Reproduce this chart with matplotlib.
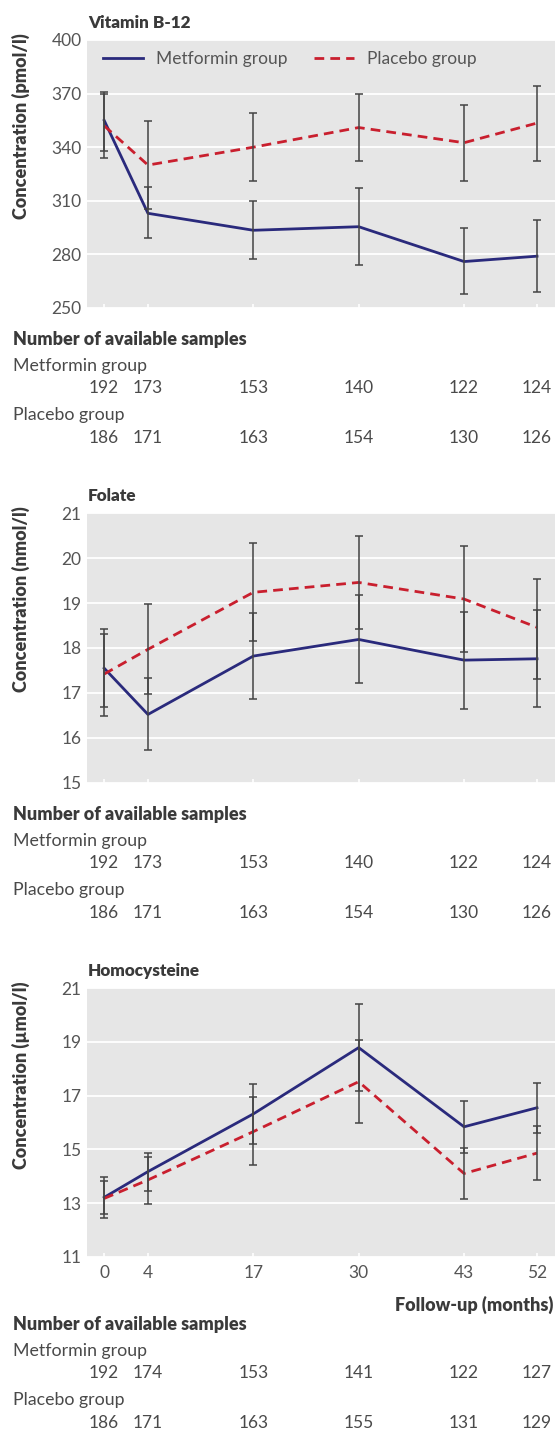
import numpy as np
import matplotlib
matplotlib.use("Agg")
import matplotlib.pyplot as plt
from matplotlib import transforms
from matplotlib.lines import Line2D

plt.rcParams['font.family'] = ['Lato', 'DejaVu Sans']

months = [0, 4, 17, 30, 43, 52]

# vitamin B-12 (pmol/l)
b12_met = [355, 303, 293.5, 295.5, 276, 279]
b12_met_lo = [338, 289, 277.5, 274, 258, 259]
b12_met_hi = [371, 318, 310, 317, 294.5, 299.5]
b12_pla = [352, 330, 340, 351, 342.5, 353.5]
b12_pla_lo = [334, 305.5, 321, 332.5, 321, 332.5]
b12_pla_hi = [369.5, 354.5, 359, 370, 363.5, 374.5]

# folate (nmol/l)
fol_met = [17.55, 16.52, 17.82, 18.19, 17.73, 17.76]
fol_met_lo = [16.69, 15.73, 16.86, 17.21, 16.65, 16.69]
fol_met_hi = [18.42, 17.33, 18.79, 19.18, 18.80, 18.84]
fol_pla = [17.42, 17.97, 19.24, 19.46, 19.09, 18.46]
fol_pla_lo = [16.48, 16.97, 18.16, 18.42, 17.90, 17.32]
fol_pla_hi = [18.31, 18.97, 20.33, 20.50, 20.27, 19.54]

# homocysteine (umol/l)
hcy_met = [13.21, 14.17, 16.32, 18.79, 15.84, 16.55]
hcy_met_lo = [12.59, 13.45, 15.20, 17.17, 14.88, 15.62]
hcy_met_hi = [13.98, 14.88, 17.45, 20.40, 16.79, 17.47]
hcy_pla = [13.17, 13.86, 15.66, 17.52, 14.10, 14.86]
hcy_pla_lo = [12.45, 12.98, 14.42, 15.99, 13.15, 13.84]
hcy_pla_hi = [13.82, 14.73, 16.94, 19.07, 15.05, 15.88]

# number of available samples
b12_n_met = [192, 173, 153, 140, 122, 124]
b12_n_pla = [186, 171, 163, 154, 130, 126]
fol_n_met = [192, 173, 153, 140, 122, 124]
fol_n_pla = [186, 171, 163, 154, 130, 126]
hcy_n_met = [192, 174, 153, 141, 122, 127]
hcy_n_pla = [186, 171, 163, 155, 131, 129]

W, H = 555, 1444
LEFT = 87
NAVY = '#2a2a7c'
RED = '#c91f2e'
EBAR = '#444444'
TXT = '#4a4a4a'
BOLD = '#3a3a3a'
BW = 'heavy'

fig = plt.figure(figsize=(W / 100, H / 100), dpi=100)


def ftext(x, y, s, **kw):
    return fig.text(x / W, 1 - y / H, s, **kw)


# the first interval (0-4 months) is drawn a bit wider than the rest
def fwd(x):
    x = np.asarray(x, dtype=float)
    return np.where(x < 4, 4 - (4 - x) * 1.35, x)


def inv(x):
    x = np.asarray(x, dtype=float)
    return np.where(x < 4, 4 - (4 - x) / 1.35, x)


def panel(top, bottom, title, ylabel, ylim, yticks, met, met_lo, met_hi,
          pla, pla_lo, pla_hi, n_met, n_pla, show_x=False, legend=False):
    ax = fig.add_axes([LEFT / W, 1 - bottom / H, (W - LEFT) / W, (bottom - top) / H])
    ax.set_facecolor('#e6e6e6')
    ax.set_xscale('function', functions=(fwd, inv))
    ax.set_xlim(-1.57, 54.22)
    ax.set_ylim(*ylim)
    ax.set_yticks(yticks)
    ax.set_xticks(months)
    ax.grid(axis='y', color='white', lw=1.3)
    ax.set_axisbelow(True)
    for s in ax.spines.values():
        s.set_visible(False)
    ax.tick_params(axis='y', length=0, pad=4, labelsize=12.5, labelcolor='#555555')
    ax.tick_params(axis='x', direction='in', length=3, width=1.2, color='white',
                   pad=6, labelsize=12.5, labelcolor='#555555',
                   labelbottom=show_x)

    ax.plot(months, met, color=NAVY, lw=2, zorder=3)
    ax.plot(months, pla, color=RED, lw=2, dashes=(3.5, 2.2), zorder=3)
    for y, lo, hi in [(met, met_lo, met_hi), (pla, pla_lo, pla_hi)]:
        y = np.array(y)
        err = [y - np.array(lo), np.array(hi) - y]
        ax.errorbar(months, y, yerr=err, fmt='none', ecolor=EBAR, elinewidth=1.1,
                    capsize=2.8, capthick=1.1, zorder=4)

    if legend:
        handles = [Line2D([], [], color=NAVY, lw=2),
                   Line2D([], [], color=RED, lw=2, dashes=(3.5, 2.2))]
        ax.legend(handles, ['Metformin group', 'Placebo group'], loc='center left',
                  bbox_to_anchor=(16 / (W - LEFT), 1 - 19 / (bottom - top)), ncol=2,
                  frameon=False, fontsize=12.5, handlelength=2.3, handletextpad=0.75,
                  columnspacing=1.55, borderpad=0, borderaxespad=0,
                  labelcolor='#555555')

    ftext(LEFT + 1, top - 17, title, fontsize=12.3, fontweight=BW, color=BOLD,
          va='center', ha='left')
    ftext(21, top - 7, ylabel, fontsize=13, fontweight=BW, color=BOLD,
          rotation=90, va='top', ha='center')

    # sample counts
    base = bottom + (36 if show_x else 0)
    tr = transforms.blended_transform_factory(ax.transData, fig.transFigure)
    ftext(13, base + 32, 'Number of available samples', fontsize=13,
          fontweight=BW, color=BOLD, va='center', ha='left')
    ftext(13, base + 58, 'Metformin group', fontsize=12.8, color=TXT, va='center')
    ftext(13, base + 107, 'Placebo group', fontsize=12.8, color=TXT, va='center')
    for m, a, b in zip(months, n_met, n_pla):
        ax.text(m, 1 - (base + 80) / H, str(a), transform=tr, fontsize=12.5,
                color=TXT, ha='center', va='center')
        ax.text(m, 1 - (base + 130) / H, str(b), transform=tr, fontsize=12.5,
                color=TXT, ha='center', va='center')
    return ax


panel(40, 308, 'Vitamin B-12', 'Concentration (pmol/l)', (250, 400),
      [250, 280, 310, 340, 370, 400], b12_met, b12_met_lo, b12_met_hi,
      b12_pla, b12_pla_lo, b12_pla_hi, b12_n_met, b12_n_pla, legend=True)
panel(513.3, 782.7, 'Folate', 'Concentration (nmol/l)', (15, 21),
      [15, 16, 17, 18, 19, 20, 21], fol_met, fol_met_lo, fol_met_hi,
      fol_pla, fol_pla_lo, fol_pla_hi, fol_n_met, fol_n_pla)
panel(988.3, 1256.7, 'Homocysteine', 'Concentration (\u00b5mol/l)', (11, 21),
      [11, 13, 15, 17, 19, 21], hcy_met, hcy_met_lo, hcy_met_hi,
      hcy_pla, hcy_pla_lo, hcy_pla_hi, hcy_n_met, hcy_n_pla, show_x=True)

ftext(553, 1305, 'Follow-up (months)', fontsize=13, fontweight=BW,
      color=BOLD, ha='right', va='center')

fig.savefig('out.png', dpi=100)
